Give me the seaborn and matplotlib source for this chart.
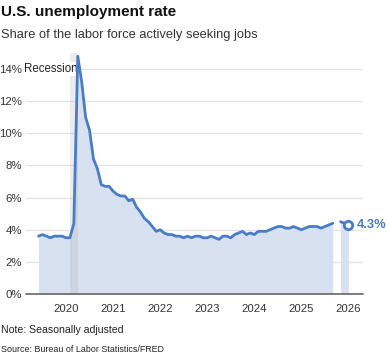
import numpy as np
import pandas as pd
import matplotlib
matplotlib.use('Agg')
import matplotlib.pyplot as plt
import seaborn as sns

# monthly unemployment rate, Jun 2019 - Sep 2025 (Oct 2025 missing)
start_month = '2019-06'
rate_main = [3.6, 3.7, 3.6, 3.5, 3.6, 3.6, 3.6,
             3.5, 3.5, 4.4, 14.8, 13.2, 11.0, 10.2, 8.4, 7.8, 6.8, 6.7, 6.7,
             6.4, 6.2, 6.1, 6.1, 5.8, 5.9, 5.4, 5.1, 4.7, 4.5, 4.2, 3.9,
             4.0, 3.8, 3.7, 3.7, 3.6, 3.6, 3.5, 3.6, 3.5, 3.6, 3.6, 3.5,
             3.5, 3.6, 3.5, 3.4, 3.6, 3.6, 3.5, 3.7, 3.8, 3.9, 3.7, 3.8,
             3.7, 3.9, 3.9, 3.9, 4.0, 4.1, 4.2, 4.2, 4.1, 4.1, 4.2, 4.1,
             4.0, 4.1, 4.2, 4.2, 4.2, 4.1, 4.2, 4.3, 4.4]
# after the gap: Nov 2025 - Jan 2026
start_tail = '2025-11'
rate_tail = [4.5, 4.4, 4.3]
last_label = '4.3%'

recession = ('2020-02', '2020-04')
years = [2020, 2021, 2022, 2023, 2024, 2025, 2026]
y_ticks = [0, 2, 4, 6, 8, 10, 12, 14]


def dec_year(months):
    return months.year + (months.month - 1) / 12


main = pd.DataFrame({'x': dec_year(pd.period_range(start_month, periods=len(rate_main), freq='M')),
                     'rate': rate_main})
tail = pd.DataFrame({'x': dec_year(pd.period_range(start_tail, periods=len(rate_tail), freq='M')),
                     'rate': rate_tail})

sns.set_style('white')
plt.rcParams['font.family'] = ['Liberation Sans', 'DejaVu Sans']

line_c = '#4a7cc6'
fill_c = '#d7e1f0'

fig = plt.figure(figsize=(3.86, 3.57), dpi=100)
ax = fig.add_axes([26 / 386, 1 - 294 / 357, 337 / 386, 241 / 357])

for d in (main, tail):
    ax.fill_between(d['x'], 0, d['rate'], color=fill_c, lw=0, zorder=1)
    sns.lineplot(data=d, x='x', y='rate', ax=ax, color=line_c, lw=2, zorder=3)

r0 = pd.Period(recession[0], 'M')
r1 = pd.Period(recession[1], 'M')
ax.axvspan(dec_year(r0), dec_year(r1), color='#9a9a9a', alpha=0.18, lw=0, zorder=2)
ax.text(dec_year(r1) - 0.01, 14, 'Recession', ha='right', va='center', fontsize=8.3, color='#222222',
        bbox=dict(facecolor='white', edgecolor='none', pad=1.0), zorder=2.5)

ax.plot(tail['x'].iloc[-1], tail['rate'].iloc[-1], 'o', ms=6, mfc='white', mec=line_c, mew=2, zorder=5)
ax.text(tail['x'].iloc[-1] + 0.17, tail['rate'].iloc[-1], last_label, color=line_c, fontsize=9.3,
        fontweight='bold', va='center', ha='left', clip_on=False)

ax.set_xlim(2019.15, 2026.31)
ax.set_ylim(0, 15)
ax.set_yticks(y_ticks)
ax.set_yticklabels([f'{v}%' for v in y_ticks])
ax.set_xticks(years)
ax.set_xticklabels([str(y) for y in years])
for v in y_ticks[1:]:
    ax.axhline(v, color='#e3e3e3', lw=0.9, zorder=0)
ax.axhline(0, color='#666666', lw=1.2, zorder=6, clip_on=False)
ax.tick_params(axis='both', length=0, labelsize=8.2, colors='#333333')
ax.tick_params(axis='y', pad=3)
ax.tick_params(axis='x', pad=7)
for s in ax.spines.values():
    s.set_visible(False)
ax.set_xlabel('')
ax.set_ylabel('')

fig.text(1 / 386, 1 - 12 / 357, 'U.S. unemployment rate', fontsize=11, fontweight='bold', va='center', color='#111111')
fig.text(1 / 386, 1 - 35 / 357, 'Share of the labor force actively seeking jobs', fontsize=9.3, va='center', color='#333333')
fig.text(1 / 386, 1 - 330 / 357, 'Note: Seasonally adjusted', fontsize=7.6, va='center', color='#222222')
fig.text(1 / 386, 1 - 349 / 357, 'Source: Bureau of Labor Statistics/FRED', fontsize=6.4, va='center', color='#222222')

fig.savefig('out.png', dpi=100)
